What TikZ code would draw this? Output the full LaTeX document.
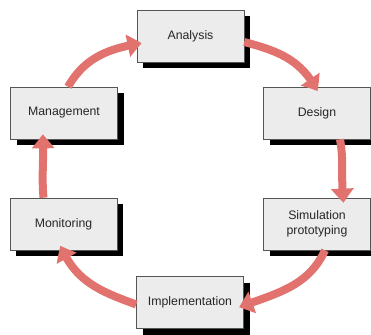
\documentclass[tikz,border=0pt]{standalone}
\usepackage{fontspec}
\setmainfont{Liberation Sans}
\usetikzlibrary{arrows.meta,bending,shadows}
\definecolor{boxfill}{HTML}{ECECEC}
\definecolor{boxline}{HTML}{555555}
\definecolor{txt}{HTML}{262626}
\definecolor{salmon}{HTML}{E2726E}
\tikzset{
  stage/.style={draw=boxline, line width=0.6pt, fill=boxfill, minimum width=107pt,
    minimum height=52pt, inner sep=0pt, align=center, text=txt,
    font=\fontsize{12.3pt}{15pt}\selectfont,
    drop shadow={shadow xshift=6pt, shadow yshift=-6pt, fill=black, opacity=1, draw=none}},
  flow/.style={draw=salmon, line width=8pt, -{Triangle[width=22pt,length=14pt,bend]}, shorten >=-5pt}
}
\begin{document}
\begin{tikzpicture}[x=1pt,y=1pt]
\useasboundingbox (0,0) rectangle (371,334);
% boxes
\node[stage] (ana) at (190.5,298) {Analysis};
\node[stage] (des) at (317,221) {Design};
\node[stage] (sim) at (317,110) {Simulation\\prototyping};
\node[stage] (imp) at (190,31.5) {Implementation};
\node[stage] (mon) at (63.5,110) {Monitoring};
\node[stage] (man) at (64,221) {Management};
% arrows
\draw[flow] ([yshift=-6pt]ana.east) to[out=-15,in=120] ([xshift=-2pt]des.north);
\draw[flow] ([xshift=23pt]des.south) to[out=-80,in=95] ([xshift=26pt]sim.north);
\draw[flow] ([xshift=8pt]sim.south) to[out=-115,in=20] ([yshift=-3pt]imp.east);
\draw[flow] ([yshift=-2pt]imp.west) to[out=160,in=-65] ([xshift=-1pt]mon.south);
\draw[flow] ([xshift=-20pt]mon.north) to[out=95,in=-88] ([xshift=-21pt]man.south);
\draw[flow] ([xshift=4pt]man.north) to[out=60,in=190] ([yshift=-8pt]ana.west);
\end{tikzpicture}
\end{document}
